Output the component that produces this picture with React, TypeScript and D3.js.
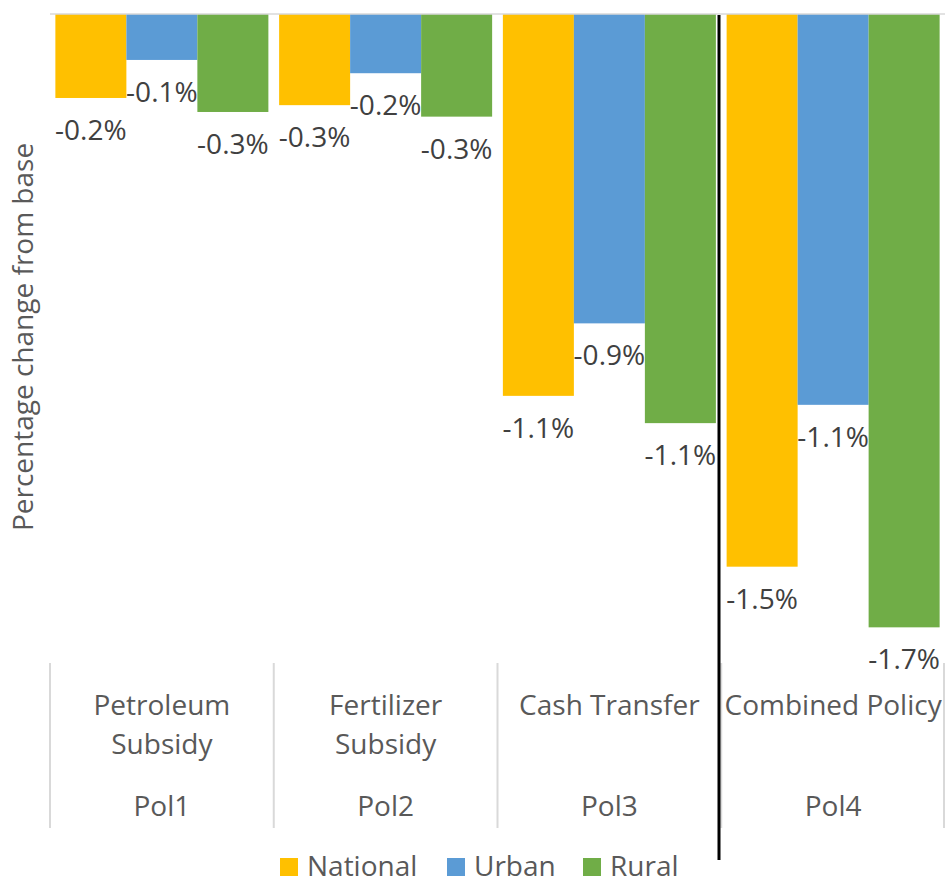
import React from "react";
import * as d3 from "d3";

const policies = ["Pol1", "Pol2", "Pol3", "Pol4"];
const policyNames = [["Petroleum", "Subsidy"], ["Fertilizer", "Subsidy"], ["Cash Transfer"], ["Combined Policy"]];
const seriesNames = ["National", "Urban", "Rural"];
const seriesColors = ["#FFC000", "#5B9BD5", "#70AD47"];
const national = [-0.234, -0.254, -1.064, -1.540];
const urban = [-0.128, -0.165, -0.862, -1.089];
const rural = [-0.273, -0.286, -1.140, -1.709];
const seriesValues = [national, urban, rural];
const yDomain = [-1.8, 0];

const W = 945;
const H = 881;
const FONT = "'Open Sans', sans-serif";

export default function App() {
  const left = 50, right = 945, top = 14, bottom = 660;
  const x = d3.scaleBand<string>().domain(policies).range([left, right]).padding(0);
  const bw = x.bandwidth();
  const xi = d3.scaleBand<string>().domain(seriesNames).range([bw * 0.024, bw * 0.976]).padding(0);
  const y = d3.scaleLinear().domain(yDomain).range([bottom, top]);
  const fmt = (v: number) => d3.format(".1f")(v).replace("\u2212", "-") + "%";

  const tickXs = [...policies.map((p) => x(p)!), right - 1];

  const legendItems = [
    { sq: 280, tx: 307 },
    { sq: 447, tx: 474 },
    { sq: 583, tx: 610 },
  ];

  return (
    <svg width={W} height={H} style={{ position: "absolute", left: 0, top: 0, background: "#fff" }} fontFamily={FONT}>
      {policies.map((p, i) => (
        <g key={p}>
          {seriesNames.map((s, j) => {
            const v = seriesValues[j][i];
            const bx = x(p)! + xi(s)!;
            return (
              <rect key={s} x={bx} y={y(0)} width={xi.bandwidth()} height={y(v) - y(0)} fill={seriesColors[j]} />
            );
          })}
        </g>
      ))}
      <line x1={left} x2={right} y1={y(0)} y2={y(0)} stroke="#D9D9D9" strokeWidth={1.5} />
      {policies.map((p, i) =>
        seriesNames.map((s, j) => {
          const v = seriesValues[j][i];
          const cx = x(p)! + xi(s)! + xi.bandwidth() / 2;
          return (
            <text key={p + s} x={cx} y={y(v) + 42} textAnchor="middle" fontSize={28} fill="#404040">
              {fmt(v)}
            </text>
          );
        })
      )}
      {tickXs.map((tx, k) => (
        <line key={k} x1={tx} x2={tx} y1={663} y2={828} stroke="#D9D9D9" strokeWidth={2} />
      ))}
      {policies.map((p, i) => {
        const cx = x(p)! + bw / 2;
        const lines = policyNames[i];
        return (
          <g key={p}>
            {lines.map((ln, k) => (
              <text key={k} x={cx} y={715 + k * 39} textAnchor="middle" fontSize={28} fill="#595959">
                {ln}
              </text>
            ))}
            <text x={cx} y={816} textAnchor="middle" fontSize={28} fill="#595959">
              {p}
            </text>
          </g>
        );
      })}
      <line x1={719} x2={719} y1={15} y2={860} stroke="#000" strokeWidth={3} />
      <text
        transform={`translate(33, ${(top + bottom) / 2}) rotate(-90)`}
        textAnchor="middle"
        fontSize={28}
        fill="#595959"
      >
        Percentage change from base
      </text>
      {seriesNames.map((s, j) => (
        <g key={s}>
          <rect x={legendItems[j].sq} y={858} width={18} height={18} fill={seriesColors[j]} />
          <text x={legendItems[j].tx} y={876} fontSize={28} fill="#595959">
            {s}
          </text>
        </g>
      ))}
    </svg>
  );
}
